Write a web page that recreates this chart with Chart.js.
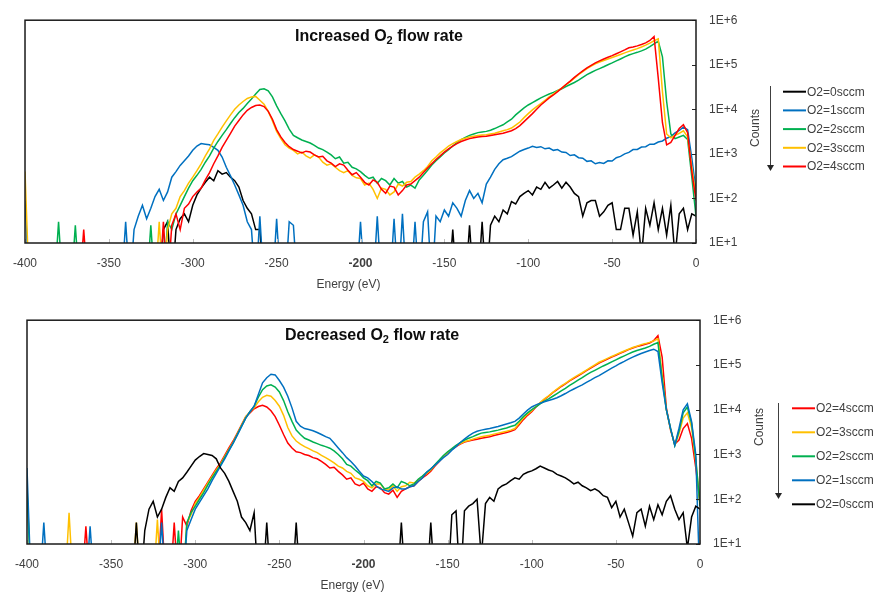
<!DOCTYPE html>
<html>
<head>
<meta charset="utf-8">
<script src="https://cdn.jsdelivr.net/npm/chart.js@4.4.1/dist/chart.umd.min.js"></script>
<style>
  html, body { margin: 0; padding: 0; background: #fff; }
  #wrap { position: relative; width: 876px; height: 595px; }
  canvas { position: absolute; left: 0; }
  #topChart { top: 0; }
  #bottomChart { top: 300px; }
</style>
</head>
<body>
<div id="wrap">
  <canvas id="topChart" width="876" height="300"></canvas>
  <canvas id="bottomChart" width="876" height="295"></canvas>
</div>
<script>
"use strict";

/* energy grid (eV), 2.5 eV steps */
var energy = [
    -400, -397.5, -395, -392.5, -390, -387.5, -385, -382.5,
    -380, -377.5, -375, -372.5, -370, -367.5, -365, -362.5,
    -360, -357.5, -355, -352.5, -350, -347.5, -345, -342.5,
    -340, -337.5, -335, -332.5, -330, -327.5, -325, -322.5,
    -320, -317.5, -315, -312.5, -310, -307.5, -305, -302.5,
    -300, -297.5, -295, -292.5, -290, -287.5, -285, -282.5,
    -280, -277.5, -275, -272.5, -270, -267.5, -265, -262.5,
    -260, -257.5, -255, -252.5, -250, -247.5, -245, -242.5,
    -240, -237.5, -235, -232.5, -230, -227.5, -225, -222.5,
    -220, -217.5, -215, -212.5, -210, -207.5, -205, -202.5,
    -200, -197.5, -195, -192.5, -190, -187.5, -185, -182.5,
    -180, -177.5, -175, -172.5, -170, -167.5, -165, -162.5,
    -160, -157.5, -155, -152.5, -150, -147.5, -145, -142.5,
    -140, -137.5, -135, -132.5, -130, -127.5, -125, -122.5,
    -120, -117.5, -115, -112.5, -110, -107.5, -105, -102.5,
    -100, -97.5, -95, -92.5, -90, -87.5, -85, -82.5,
    -80, -77.5, -75, -72.5, -70, -67.5, -65, -62.5,
    -60, -57.5, -55, -52.5, -50, -47.5, -45, -42.5,
    -40, -37.5, -35, -32.5, -30, -27.5, -25, -22.5,
    -20, -17.5, -15, -12.5, -10, -7.5, -5, -2.5,
    0
];

var seriesNames = ['O2=0sccm', 'O2=1sccm', 'O2=2sccm', 'O2=3sccm', 'O2=4sccm'];
var yTicks = [10, 100, 1000, 10000, 100000, 1000000];
var yTickLabels = ['1E+1', '1E+2', '1E+3', '1E+4', '1E+5', '1E+6'];
var xTicks = [-400, -350, -300, -250, -200, -150, -100, -50, 0];

/* increased O2 flow rate (counts; 1 = nothing counted) */
var inc0 = [
    1, 1, 1, 1, 1, 1, 1, 1,
    1, 1, 1, 1, 1, 1, 1, 1,
    1, 1, 1, 1, 1, 1, 1, 1,
    1, 1, 1, 1, 1, 1, 1, 1,
    1, 20, 30, 1, 20, 35, 45, 30,
    70, 120, 170, 230, 300, 250, 420, 350,
    380, 300, 250, 180, 90, 60, 45, 20,
    20, 1, 1, 1, 1, 1, 1, 1,
    1, 1, 1, 1, 1, 1, 1, 1,
    1, 1, 1, 1, 1, 1, 1, 1,
    1, 1, 1, 1, 1, 1, 1, 1,
    1, 1, 1, 1, 1, 1, 1, 1,
    1, 1, 1, 1, 1, 1, 20, 1,
    1, 1, 25, 1, 1, 30, 1, 25,
    40, 30, 55, 45, 85, 75, 110, 130,
    150, 120, 180, 160, 230, 170, 200, 240,
    170, 230, 180, 130, 110, 40, 80, 90,
    90, 40, 50, 70, 80, 20, 20, 60,
    60, 15, 50, 5, 60, 25, 80, 20,
    60, 15, 70, 5, 45, 60, 20, 45,
    40
];
var inc1 = [
    90, 1, 1, 1, 1, 1, 1, 1,
    1, 1, 1, 1, 1, 1, 1, 1,
    1, 1, 1, 1, 1, 1, 1, 1,
    30, 1, 20, 40, 70, 35, 60, 110,
    160, 90, 140, 300, 400, 550, 700, 900,
    1200, 1500, 1700, 1650, 1600, 1400, 1200, 850,
    500, 320, 200, 120, 70, 30, 20, 1,
    40, 1, 1, 1, 35, 1, 1, 30,
    25, 1, 1, 1, 1, 1, 1, 1,
    1, 1, 1, 1, 1, 1, 1, 1,
    30, 1, 1, 1, 40, 1, 1, 1,
    35, 1, 45, 1, 1, 30, 1, 30,
    50, 1, 40, 30, 55, 40, 80, 60,
    40, 90, 150, 100, 130, 80, 210, 300,
    450, 600, 740, 800, 870, 1000, 1150, 1250,
    1350, 1480, 1400, 1450, 1300, 1350, 1200, 1250,
    1100, 1080, 920, 950, 820, 800, 680, 700,
    600, 640, 610, 700, 690, 820, 880, 1000,
    1080, 1250, 1260, 1420, 1450, 1650, 1650, 1850,
    1950, 2250, 2450, 2950, 3350, 4000, 3500, 800,
    150
];
var inc2 = [
    1, 1, 1, 1, 1, 1, 1, 1,
    30, 1, 1, 1, 25, 1, 1, 1,
    1, 1, 1, 1, 1, 1, 1, 1,
    1, 1, 1, 1, 1, 1, 25, 1,
    1, 1, 30, 20, 45, 70, 110, 170,
    250, 330, 450, 650, 900, 1350, 1900, 2600,
    3500, 4800, 6500, 8500, 10500, 13500, 17000, 22000,
    28000, 29000, 26000, 19000, 12000, 8000, 5500, 3600,
    2600, 2300, 2050, 1900, 1750, 1550, 1350, 1250,
    1100, 950, 780, 850, 620, 650, 500, 460,
    400, 330, 280, 300, 220, 280, 250, 200,
    280, 220, 240, 180, 200, 170, 260, 330,
    430, 560, 700, 850, 1050, 1250, 1500, 1800,
    2100, 2350, 2600, 2800, 3000, 3100, 3200, 3400,
    3700, 4100, 4500, 5200, 6000, 7500, 9000, 10800,
    12500, 14200, 16000, 18000, 20000, 22000, 24000, 26500,
    29000, 32500, 36000, 40000, 45000, 52000, 60000, 67000,
    75000, 82000, 90000, 100000, 110000, 122000, 135000, 150000,
    165000, 178000, 190000, 205000, 225000, 255000, 295000, 340000,
    150000, 15000, 2800, 2200, 2400, 2600, 2100, 300,
    40
];
var inc3 = [
    400, 1, 1, 1, 1, 1, 1, 1,
    1, 1, 1, 1, 1, 1, 1, 1,
    1, 1, 1, 1, 1, 1, 1, 1,
    1, 1, 1, 1, 1, 1, 1, 1,
    30, 1, 20, 45, 60, 110, 150, 220,
    300, 420, 600, 900, 1300, 2000, 2800, 4000,
    5500, 7500, 10000, 12500, 15000, 17500, 19000, 19500,
    16000, 13000, 9000, 5500, 3200, 2200, 1600, 1350,
    1200, 1000, 1100, 900, 800, 950, 850, 650,
    560, 600, 500, 420, 380, 420, 330, 290,
    280, 200, 220, 160, 100, 170, 160, 120,
    140, 210, 190, 230, 240, 300, 350, 420,
    520, 700, 850, 1050, 1250, 1500, 1700, 1900,
    2100, 2250, 2400, 2500, 2600, 2650, 2700, 2800,
    2900, 3100, 3300, 3500, 3800, 4400, 5200, 6500,
    8000, 9700, 11500, 13500, 16000, 19000, 22000, 26000,
    30000, 36000, 42000, 50000, 60000, 70000, 82000, 93000,
    105000, 115000, 125000, 135000, 145000, 157000, 170000, 185000,
    200000, 215000, 230000, 250000, 275000, 305000, 345000, 380000,
    25000, 2800, 2300, 2600, 2900, 3300, 2400, 500,
    110
];
var inc4 = [
    1, 1, 1, 1, 1, 1, 1, 1,
    1, 1, 1, 1, 1, 1, 20, 1,
    1, 1, 1, 1, 1, 1, 1, 1,
    1, 1, 1, 1, 1, 1, 1, 1,
    1, 30, 1, 25, 45, 20, 60, 75,
    110, 140, 170, 260, 380, 600, 900, 1400,
    2000, 2900, 4200, 5600, 7500, 9500, 11000, 12200,
    12500, 11500, 9000, 6000, 3500, 2400, 1800, 1450,
    1250, 1150, 1050, 1150, 1100, 950, 850, 880,
    700, 620, 520, 600, 560, 430, 340, 380,
    300, 230, 200, 260, 230, 160, 130, 190,
    180, 120, 150, 200, 210, 250, 300, 380,
    480, 600, 750, 900, 1100, 1300, 1500, 1700,
    1900, 2050, 2200, 2300, 2400, 2450, 2500, 2600,
    2700, 2800, 2900, 3100, 3300, 3700, 4300, 5300,
    6500, 8000, 10000, 12500, 15000, 18000, 21000, 25000,
    30000, 36000, 43000, 52000, 62000, 73000, 85000, 97000,
    110000, 122000, 135000, 147000, 160000, 177000, 195000, 215000,
    240000, 250000, 265000, 285000, 310000, 350000, 430000, 50000,
    5000, 1600, 1800, 2600, 3700, 4500, 3000, 400,
    90
];

/* decreased O2 flow rate */
var dec0 = [
    1, 1, 1, 1, 1, 1, 1, 1,
    1, 1, 1, 1, 1, 1, 1, 1,
    1, 1, 1, 1, 1, 1, 1, 1,
    1, 1, 30, 1, 20, 60, 90, 40,
    60, 110, 180, 150, 250, 300, 400, 550,
    750, 900, 1050, 1000, 950, 800, 500, 380,
    250, 150, 90, 40, 30, 20, 50, 1,
    1, 30, 1, 1, 1, 1, 1, 1,
    30, 1, 1, 1, 1, 1, 1, 1,
    1, 1, 1, 1, 1, 1, 1, 1,
    1, 1, 1, 1, 1, 1, 1, 1,
    1, 30, 1, 1, 1, 1, 1, 1,
    30, 1, 1, 1, 1, 45, 55, 1,
    55, 70, 80, 100, 5, 80, 110, 90,
    170, 200, 220, 260, 300, 280, 360, 400,
    430, 480, 550, 500, 450, 420, 360, 330,
    300, 260, 220, 240, 200, 180, 155, 170,
    150, 120, 110, 65, 90, 40, 60, 30,
    15, 50, 60, 25, 70, 35, 75, 45,
    90, 120, 60, 35, 50, 8, 40, 70,
    60
];
var dec1 = [
    500, 1, 1, 1, 30, 1, 1, 1,
    1, 1, 1, 1, 1, 1, 1, 25,
    1, 1, 1, 1, 1, 1, 1, 1,
    1, 1, 1, 1, 1, 1, 1, 1,
    30, 1, 1, 1, 1, 1, 20, 35,
    60, 85, 120, 170, 260, 380, 550, 800,
    1200, 1800, 2700, 4200, 6500, 9000, 12000, 22000,
    40000, 52000, 62000, 60000, 45000, 32000, 20000, 11000,
    5500, 4300, 3800, 3600, 3400, 3100, 2800, 2500,
    2300, 1800, 1400, 1100, 850, 700, 550, 420,
    330, 300, 250, 200, 170, 160, 150, 180,
    190, 170, 170, 190, 200, 250, 300, 400,
    480, 580, 700, 850, 1000, 1250, 1500, 1850,
    2200, 2600, 3000, 3300, 3500, 3650, 3800, 4000,
    4200, 4500, 4800, 5100, 5500, 6500, 8000, 9800,
    11500, 12800, 14000, 15000, 16000, 17200, 18500, 20500,
    23000, 26000, 29000, 32500, 36000, 41000, 46000, 52000,
    58000, 66000, 75000, 85000, 95000, 108000, 120000, 135000,
    150000, 165000, 180000, 195000, 210000, 225000, 200000, 40000,
    10000, 3800, 1600, 3800, 10000, 13500, 5400, 1000,
    1
];
var dec2 = [
    150, 1, 1, 1, 1, 1, 1, 1,
    1, 1, 1, 1, 1, 1, 1, 1,
    1, 1, 1, 1, 1, 1, 1, 1,
    1, 1, 1, 1, 1, 1, 1, 1,
    1, 1, 1, 1, 20, 1, 30, 50,
    70, 100, 140, 210, 300, 420, 580, 850,
    1250, 1800, 2800, 4300, 6500, 9000, 12000, 19000,
    28000, 34000, 36000, 32000, 25000, 16000, 9000, 5500,
    3500, 2800, 2300, 2100, 1900, 1750, 1600, 1500,
    1380, 1200, 1000, 800, 600, 550, 450, 380,
    300, 260, 200, 250, 230, 170, 180, 220,
    180, 250, 230, 200, 220, 280, 330, 400,
    470, 600, 750, 950, 1150, 1350, 1600, 1850,
    2100, 2300, 2500, 2750, 3000, 3100, 3200, 3350,
    3500, 3700, 3900, 4200, 4500, 5500, 7000, 8500,
    10000, 11500, 13500, 15500, 17500, 20000, 23000, 26500,
    30000, 35000, 40000, 46000, 52000, 60000, 68000, 76000,
    85000, 95000, 105000, 117000, 130000, 145000, 160000, 177000,
    195000, 210000, 225000, 240000, 260000, 290000, 315000, 50000,
    10000, 3800, 1600, 3300, 8500, 11500, 5000, 800,
    70
];
var dec3 = [
    200, 1, 1, 1, 1, 1, 1, 1,
    1, 1, 50, 1, 1, 1, 1, 1,
    1, 1, 1, 1, 1, 1, 1, 1,
    1, 1, 30, 1, 1, 1, 1, 35,
    1, 1, 1, 1, 1, 1, 30, 45,
    80, 110, 160, 230, 320, 450, 600, 900,
    1300, 1900, 2900, 4500, 7000, 9000, 11000, 15000,
    19000, 21000, 20000, 16000, 12000, 7500, 4000, 2600,
    2000, 1700, 1500, 1350, 1200, 1100, 950, 850,
    750, 650, 550, 500, 420, 380, 300, 280,
    250, 200, 180, 220, 220, 170, 160, 200,
    150, 190, 200, 240, 230, 270, 320, 380,
    450, 580, 720, 900, 1100, 1300, 1550, 1750,
    1950, 2050, 2200, 2350, 2500, 2600, 2700, 2850,
    3000, 3150, 3300, 3500, 3800, 5000, 6500, 8000,
    9500, 12000, 14500, 17500, 20500, 24500, 29000, 34000,
    39000, 45000, 52000, 59000, 67000, 77000, 88000, 101000,
    115000, 127000, 140000, 155000, 170000, 187000, 205000, 225000,
    245000, 262000, 285000, 300000, 320000, 345000, 385000, 60000,
    10000, 3700, 1600, 2900, 6500, 8500, 4000, 700,
    80
];
var dec4 = [
    1, 1, 1, 1, 1, 1, 1, 1,
    1, 1, 1, 1, 1, 1, 25, 1,
    1, 1, 1, 1, 1, 1, 1, 1,
    1, 1, 1, 1, 1, 1, 1, 1,
    60, 1, 1, 30, 1, 40, 25, 55,
    90, 120, 170, 240, 340, 480, 650, 950,
    1400, 2000, 3000, 4600, 7000, 8500, 10500, 11800,
    12500, 11500, 9500, 7000, 4500, 2800, 1800, 1400,
    1150, 1100, 1000, 950, 850, 800, 700, 600,
    500, 520, 420, 350, 280, 300, 220, 200,
    230, 170, 150, 190, 180, 140, 130, 160,
    110, 150, 170, 190, 200, 250, 300, 350,
    420, 550, 700, 900, 1100, 1300, 1500, 1700,
    1900, 2000, 2100, 2200, 2300, 2400, 2500, 2650,
    2800, 2950, 3100, 3300, 3600, 4600, 6000, 7500,
    9000, 11500, 14000, 17000, 20000, 24000, 28000, 33000,
    38000, 44000, 50000, 57000, 65000, 75000, 85000, 97000,
    110000, 122000, 135000, 150000, 165000, 182000, 200000, 220000,
    240000, 258000, 272000, 290000, 310000, 350000, 450000, 150000,
    11000, 3500, 1700, 2100, 3800, 4900, 2300, 500,
    80
];

var seriesColors = ['#000000', '#0070C0', '#00B050', '#FFC000', '#FF0000'];
var textColor = '#404040';
var fontFamily = '"Liberation Sans", Arial, sans-serif';

Chart.defaults.font.family = fontFamily;
Chart.defaults.font.size = 12;
Chart.defaults.color = textColor;

/* frame, inward ticks, title, legend, counts arrow */
var panelDecor = {
    id: 'panelDecor',
    afterDatasetsDraw: function (chart, args, o) {
        var ctx = chart.ctx, a = chart.chartArea;
        var xs = chart.scales.x, ys = chart.scales.y;
        ctx.save();
        ctx.strokeStyle = '#bfbfbf';
        ctx.lineWidth = 1;
        xTicks.forEach(function (v) {
            var px = Math.round(xs.getPixelForValue(v)) + 0.5;
            ctx.beginPath();
            ctx.moveTo(px, a.bottom);
            ctx.lineTo(px, a.bottom - 4);
            ctx.stroke();
        });
        ctx.strokeStyle = '#262626';
        yTicks.forEach(function (v) {
            var py = Math.round(ys.getPixelForValue(v)) + 0.5;
            ctx.beginPath();
            ctx.moveTo(a.right, py);
            ctx.lineTo(a.right - 4, py);
            ctx.stroke();
        });
        ctx.lineWidth = 1.5;
        ctx.strokeStyle = '#1a1a1a';
        ctx.strokeRect(a.left, a.top, a.right - a.left, a.bottom - a.top);
        ctx.restore();
    },
    afterDraw: function (chart, args, o) {
        var ctx = chart.ctx, a = chart.chartArea;
        ctx.save();
        // panel title with subscript
        ctx.fillStyle = '#0d0d0d';
        ctx.textBaseline = 'alphabetic';
        ctx.textAlign = 'left';
        var tx = o.titleX;
        ctx.font = 'bold 16px ' + fontFamily;
        ctx.fillText(o.titleA, tx, o.titleY);
        tx += ctx.measureText(o.titleA).width;
        ctx.font = 'bold 11px ' + fontFamily;
        ctx.fillText('2', tx, o.titleY + 3);
        tx += ctx.measureText('2').width;
        ctx.font = 'bold 16px ' + fontFamily;
        ctx.fillText(o.titleB, tx, o.titleY);

        // x axis title
        ctx.fillStyle = textColor;
        ctx.font = '12px ' + fontFamily;
        ctx.textAlign = 'center';
        ctx.textBaseline = 'middle';
        ctx.fillText('Energy (eV)', (a.left + a.right) / 2 + o.xTitleShift, o.xTitleY);

        // legend
        ctx.textAlign = 'left';
        chart.data.datasets.forEach(function (ds, i) {
            var ly = o.legendY + i * o.legendStep;
            ctx.strokeStyle = ds.borderColor;
            ctx.lineWidth = 2;
            ctx.beginPath();
            ctx.moveTo(o.legendX, ly);
            ctx.lineTo(o.legendX + 23, ly);
            ctx.stroke();
            ctx.fillStyle = textColor;
            ctx.fillText(ds.label, o.legendX + 24, ly + 0.5);
        });

        // Counts label and arrow
        ctx.save();
        ctx.translate(o.countsX, o.countsY);
        ctx.rotate(-Math.PI / 2);
        ctx.textAlign = 'center';
        ctx.fillText('Counts', 0, 0);
        ctx.restore();
        ctx.strokeStyle = '#404040';
        ctx.fillStyle = '#262626';
        ctx.lineWidth = 1;
        ctx.beginPath();
        ctx.moveTo(o.arrowX, o.arrowTop);
        ctx.lineTo(o.arrowX, o.arrowBottom - 5);
        ctx.stroke();
        ctx.beginPath();
        ctx.moveTo(o.arrowX - 3.5, o.arrowBottom - 6);
        ctx.lineTo(o.arrowX + 3.5, o.arrowBottom - 6);
        ctx.lineTo(o.arrowX, o.arrowBottom);
        ctx.closePath();
        ctx.fill();
        ctx.restore();
    }
};

function makeChart(id, series, order, p) {
    var datasets = order.map(function (k, i) {
        return {
            label: seriesNames[k],
            data: energy.map(function (e, j) { return { x: e, y: series[k][j] }; }),
            borderColor: seriesColors[k],
            backgroundColor: seriesColors[k],
            borderWidth: 1.5,
            pointRadius: 0,
            tension: 0,
            fill: false,
            order: order.length - i
        };
    });
    return new Chart(document.getElementById(id), {
        type: 'line',
        data: { datasets: datasets },
        options: {
            responsive: false,
            animation: false,
            events: [],
            layout: { padding: { left: p.left, top: p.top, right: 0, bottom: 0 } },
            plugins: {
                legend: { display: false },
                tooltip: { enabled: false },
                panelDecor: p
            },
            scales: {
                x: {
                    type: 'linear',
                    min: -400,
                    max: 0,
                    afterBuildTicks: function (s) {
                        s.ticks = xTicks.map(function (v) { return { value: v }; });
                    },
                    ticks: {
                        padding: 13,
                        maxRotation: 0,
                        autoSkip: false,
                        color: textColor,
                        font: function (ctx) {
                            return { size: 12, family: fontFamily, weight: (ctx.tick && ctx.tick.value === -200) ? 'bold' : 'normal' };
                        },
                        callback: function (v) { return String(v); }
                    },
                    grid: { display: false, drawTicks: false },
                    border: { display: false },
                    afterFit: function (s) { s.height = p.xAxisHeight; }
                },
                y: {
                    type: 'logarithmic',
                    position: 'right',
                    min: 10,
                    max: 1000000,
                    afterBuildTicks: function (s) {
                        s.ticks = yTicks.map(function (v) { return { value: v }; });
                    },
                    ticks: {
                        padding: 13,
                        color: textColor,
                        callback: function (v) { return yTickLabels[yTicks.indexOf(v)]; }
                    },
                    grid: { display: false, drawTicks: false },
                    border: { display: false },
                    afterFit: function (s) { s.width = p.yAxisWidth; }
                }
            }
        },
        plugins: [panelDecor]
    });
}

document.addEventListener("DOMContentLoaded", function () {
    makeChart('topChart', [inc0, inc1, inc2, inc3, inc4], [0, 1, 2, 3, 4], {
        left: 23, top: 16, xAxisHeight: 57, yAxisWidth: 180,
        titleA: 'Increased O', titleB: ' flow rate', titleX: 295, titleY: 41,
        xTitleShift: -12, xTitleY: 285,
        legendX: 783, legendY: 91.7, legendStep: 18.7,
        countsX: 756, countsY: 128, arrowX: 770.5, arrowTop: 86, arrowBottom: 171
    });
    makeChart('bottomChart', [dec0, dec1, dec2, dec3, dec4], [4, 3, 2, 1, 0], {
        left: 27, top: 17, xAxisHeight: 51, yAxisWidth: 176,
        titleA: 'Decreased O', titleB: ' flow rate', titleX: 285, titleY: 40,
        xTitleShift: -11, xTitleY: 286,
        legendX: 792, legendY: 108.3, legendStep: 24,
        countsX: 760, countsY: 127, arrowX: 778.5, arrowTop: 103, arrowBottom: 199
    });
});
</script>
</body>
</html>
